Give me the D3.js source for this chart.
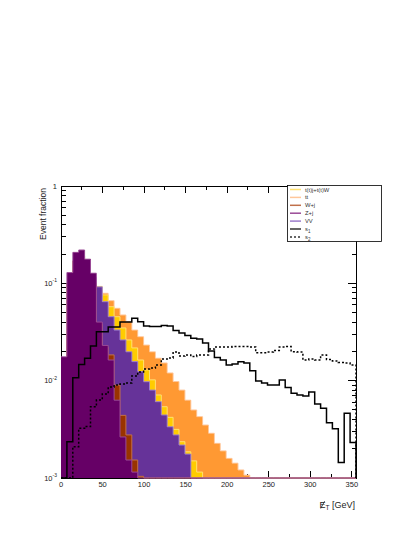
<!DOCTYPE html>
<html><head><meta charset="utf-8">
<script src="https://cdn.jsdelivr.net/npm/d3@7"></script>
<style>html,body{margin:0;padding:0;background:#fff;}svg{display:block;}</style>
</head><body>
<script>
// ---- data ----
const binLow = 0, binWidth = 7.1, nBins = 50;
const xDomain = [0, 355];
const yDomain = [1e-3, 1];
const xTickValues = [0, 25, 50, 75, 100, 125, 150, 175, 200, 225, 250, 275, 300, 325, 350];
const xTickLabels = ["0", "50", "100", "150", "200", "250", "300", "350"];
const yTickLabels = [{base: "10", exp: "-3", v: 1e-3}, {base: "10", exp: "-2", v: 1e-2}, {base: "10", exp: "-1", v: 1e-1}, {base: "1", exp: "", v: 1}];

const seriesNames = ["t(t)j+t(t)W", "tt", "W+j", "Z+j", "VV"];
const ttbar = [0.012, 0.03, 0.045, 0.058, 0.07, 0.08, 0.090, 0.079, 0.0664, 0.0554, 0.0473, 0.0403, 0.0331, 0.0283, 0.0232, 0.0198, 0.0170, 0.0152, 0.0120, 0.0098, 0.0080, 0.0063, 0.0050, 0.00427, 0.0035, 0.00288, 0.00227, 0.0019, 0.00159, 0.00142, 0.00121, 0.00107, 0,0,0,0,0,0,0,0,0,0,0,0,0,0,0,0,0,0];
const tW = [0.008, 0.025, 0.045, 0.06, 0.075, 0.085, 0.093, 0.076, 0.0575, 0.0454, 0.0348, 0.0262, 0.0217, 0.0163, 0.0129, 0.0102, 0.00713, 0.0054, 0.0042, 0.00316, 0.00236, 0.00186, 0.0015, 0.00115, 0,0,0,0,0,0,0,0,0,0,0,0,0,0,0,0,0,0,0,0,0,0,0,0,0,0];
const VV = [0.005, 0.03, 0.06, 0.085, 0.10, 0.115, 0.092, 0.0648, 0.0454, 0.0331, 0.0262, 0.0198, 0.0157, 0.0124, 0.00976, 0.0080, 0.00608, 0.00444, 0.00336, 0.00277, 0.00218, 0.00176, 0,0,0,0,0,0,0,0,0,0,0,0,0,0,0,0,0,0,0,0,0,0,0,0,0,0,0,0];
const Wj = [0.012, 0.10, 0.17, 0.19, 0.15, 0.10, 0.038, 0.022, 0.0184, 0.0090, 0.0044, 0.00277, 0.00153, 0.00104, 0,0,0,0,0,0,0,0,0,0,0,0,0,0,0,0,0,0,0,0,0,0,0,0,0,0,0,0,0,0,0,0,0,0,0,0];
const Zj = [0.0176, 0.129, 0.208, 0.220, 0.177, 0.127, 0.040, 0.023, 0.0163, 0.0063, 0.00264, 0.00153, 0.00115, 0,0,0,0,0,0,0,0,0,0,0,0,0,0,0,0,0,0,0,0,0,0,0,0,0,0,0,0,0,0,0,0,0,0,0,0,0];
const s1 = [0, 0.00236, 0.0107, 0.0147, 0.0170, 0.0227, 0.0318, 0.0318, 0.0356, 0.0356, 0.0401, 0.0401, 0.0437, 0.0403, 0.0365, 0.0360, 0.0360, 0.0369, 0.0365, 0.0328, 0.0309, 0.0291, 0.0272, 0.0268, 0.0244, 0.0202, 0.0173, 0.0163, 0.0145, 0.0148, 0.0156, 0.0152, 0.01265, 0.00993, 0.00946, 0.00902, 0.00902, 0.01016, 0.00851, 0.00742, 0.00713, 0.00696, 0.00764, 0.00576, 0.0052, 0.0037, 0.00321, 0.00144, 0.00462, 0.00231];
const s2 = [0, 0, 0.0021, 0.00324, 0.00338, 0.0054, 0.00633, 0.0073, 0.00861, 0.00902, 0.00924, 0.00946, 0.01117, 0.01228, 0.01318, 0.01349, 0.01449, 0.0167, 0.0171, 0.01969, 0.01791, 0.01835, 0.01771, 0.01835, 0.01835, 0.02114, 0.02218, 0.02218, 0.02218, 0.02244, 0.02244, 0.02244, 0.02218, 0.01937, 0.01937, 0.01969, 0.02042, 0.02218, 0.02244, 0.01985, 0.01969, 0.0163, 0.0167, 0.0163, 0.01835, 0.0165, 0.01592, 0.01537, 0.0152, 0.01449];

// ---- styles ----
const W = 415, H = 537;
const frame = {left: 61, right: 356, top: 186, bottom: 478};
const fills = {tt: "#ff9933", tW: "#ffcc00", VV: "#663399", Wj: "#993300", Zj: "#660066"};
const lines = {tt: "#ffc79a", tW: "#ffe070", VV: "#9c7ccc", Wj: "#c0704a", Zj: "#9a4a96"};
const font = "'Liberation Sans', Arial, Helvetica, sans-serif";

const svg = d3.select("body").append("svg").attr("width", W).attr("height", H);
svg.append("rect").attr("width", W).attr("height", H).attr("fill", "#fff");

const x = d3.scaleLinear().domain(xDomain).range([frame.left, frame.right]);
const y = d3.scaleLog().domain(yDomain).range([frame.bottom, frame.top]);
const yMin = yDomain[0];

// ---- axes & ticks (drawn first, histograms cover them as in ROOT) ----
const axG = svg.append("g").attr("stroke", "#000").attr("stroke-width", 1).attr("shape-rendering", "crispEdges");
const yMajor = [1e-3, 1e-2, 1e-1, 1];
const yMinor = [];
[1e-3, 1e-2, 1e-1].forEach(d => { for (let k = 2; k <= 9; k++) yMinor.push(d * k); });
yMinor.forEach(v => {
  axG.append("line").attr("x1", frame.left).attr("x2", frame.left + 4.5).attr("y1", y(v)).attr("y2", y(v));
  axG.append("line").attr("x1", frame.right).attr("x2", frame.right - 4.5).attr("y1", y(v)).attr("y2", y(v));
});
yMajor.forEach(v => {
  axG.append("line").attr("x1", frame.left).attr("x2", frame.left + 8.5).attr("y1", y(v)).attr("y2", y(v));
  axG.append("line").attr("x1", frame.right).attr("x2", frame.right - 8.5).attr("y1", y(v)).attr("y2", y(v));
});
xTickValues.forEach(v => {
  const len = (v % 50 === 0) ? 7 : 4;
  axG.append("line").attr("x1", x(v)).attr("x2", x(v)).attr("y1", frame.bottom).attr("y2", frame.bottom - len);
  axG.append("line").attr("x1", x(v)).attr("x2", x(v)).attr("y1", frame.top).attr("y2", frame.top + len);
});
axG.append("rect").attr("x", frame.left).attr("y", frame.top)
  .attr("width", frame.right - frame.left).attr("height", frame.bottom - frame.top).attr("fill", "none");

// ---- histograms (overlaid, nostack) ----
svg.append("defs").append("clipPath").attr("id", "clip").append("rect")
  .attr("x", frame.left).attr("y", frame.top - 1).attr("width", frame.right - frame.left).attr("height", frame.bottom - frame.top + 2);
const plot = svg.append("g").attr("clip-path", "url(#clip)");

function stepPoints(vals) {
  const pts = [];
  vals.forEach((v, i) => {
    const x0 = binLow + i * binWidth, x1 = x0 + binWidth;
    pts.push([x0, v], [x1, v]);
  });
  return pts;
}
const clampY = v => y(Math.max(v, yMin));
const area = d3.area().x(d => x(d[0])).y0(y(yMin)).y1(d => clampY(d[1]));
const line = d3.line().x(d => x(d[0])).y(d => clampY(d[1]));

const drawOrder = [["tt", ttbar], ["tW", tW], ["VV", VV], ["Wj", Wj], ["Zj", Zj]];
drawOrder.forEach(([key, vals]) => {
  const pts = stepPoints(vals);
  plot.append("path").attr("d", area(pts)).attr("fill", fills[key]).attr("shape-rendering", "crispEdges");
  plot.append("path").attr("d", line(pts)).attr("fill", "none").attr("stroke", lines[key]).attr("stroke-width", 1);
});

function sigPoints(vals) {
  return [[binLow, 0]].concat(stepPoints(vals)).concat([[binLow + nBins * binWidth, 0]]);
}
plot.append("path").attr("d", line(sigPoints(s1))).attr("fill", "none").attr("stroke", "#000").attr("stroke-width", 1.5);
plot.append("path").attr("d", line(sigPoints(s2))).attr("fill", "none").attr("stroke", "#000").attr("stroke-width", 1.5).attr("stroke-dasharray", "2,2");

// ---- tick labels ----
const txt = svg.append("g").attr("font-family", font).attr("fill", "#222");
xTickLabels.forEach(l => {
  txt.append("text").attr("x", x(+l)).attr("y", 487).attr("text-anchor", "middle").attr("font-size", 7.5).text(l);
});
yTickLabels.forEach(t => {
  const tx = txt.append("text").attr("x", 57).attr("y", y(t.v) + 2.5).attr("text-anchor", "end").attr("font-size", 7.5);
  tx.append("tspan").text(t.base);
  if (t.exp) tx.append("tspan").attr("font-size", 5).attr("dy", -3.5).text(t.exp);
});

// ---- axis titles ----
txt.append("text").attr("transform", `translate(46,${frame.top + 2}) rotate(-90)`).attr("text-anchor", "end")
  .attr("font-size", 8.5).text("Event fraction");
const xt = txt.append("text").attr("x", frame.right - 1).attr("y", 508).attr("text-anchor", "end").attr("font-size", 9);
xt.append("tspan").attr("class", "etE").text("E");
xt.append("tspan").attr("font-size", 6.5).attr("dy", 2).text("T");
xt.append("tspan").attr("dy", -2).text(" [GeV]");
{
  const e = xt.select(".etE").node();
  const ext = e.getExtentOfChar ? e.getExtentOfChar(0) : null;
  if (ext) {
    svg.append("line").attr("x1", ext.x + ext.width * 0.2).attr("x2", ext.x + ext.width * 0.85)
      .attr("y1", ext.y + ext.height * 0.85).attr("y2", ext.y + ext.height * 0.12)
      .attr("stroke", "#222").attr("stroke-width", 0.8);
  }
}

// ---- legend ----
const legendEntries = [
  {name: "t(t)j+t(t)W", color: lines.tW, w: 1.5, dash: null},
  {name: "tt", color: lines.tt, w: 1.5, dash: null},
  {name: "W+j", color: lines.Wj, w: 1.5, dash: null},
  {name: "Z+j", color: lines.Zj, w: 1.5, dash: null},
  {name: "VV", color: lines.VV, w: 1.5, dash: null},
  {name: "s", sub: "1", color: "#333", w: 1.5, dash: null},
  {name: "s", sub: "2", color: "#333", w: 1.5, dash: "2,2"}
];
const lg = svg.append("g");
lg.append("rect").attr("x", 287.5).attr("y", 185.5).attr("width", 94).attr("height", 56)
  .attr("fill", "#fff").attr("stroke", "#000").attr("stroke-width", 0.8);
legendEntries.forEach((e, i) => {
  const yy = 189.5 + i * 7.9;
  const ln = lg.append("line").attr("x1", 290).attr("x2", 301).attr("y1", yy).attr("y2", yy)
    .attr("stroke", e.color).attr("stroke-width", e.w);
  if (e.dash) ln.attr("stroke-dasharray", e.dash);
  const t = lg.append("text").attr("x", 305).attr("y", yy + 2).attr("font-family", font).attr("font-size", 5.8).attr("fill", "#333");
  t.append("tspan").text(e.name);
  if (e.sub) t.append("tspan").attr("font-size", 4.5).attr("dy", 1.8).text(e.sub);
});
</script>
</body></html>
